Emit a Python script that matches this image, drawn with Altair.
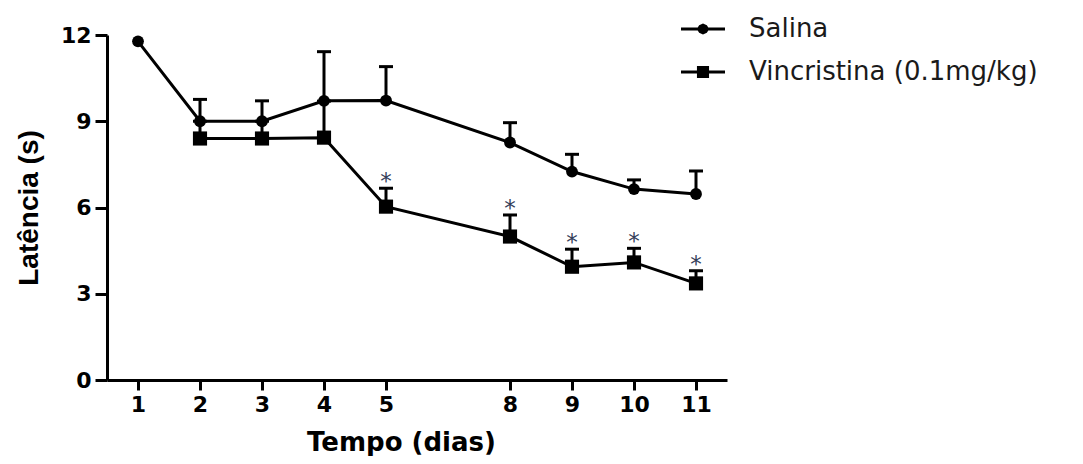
import altair as alt
import pandas as pd

# ---- data ----
dias = ["1", "2", "3", "4", "5", "8", "9", "10", "11"]
ordem = [1, 2, 3, 4, 5, 8, 9, 10, 11]
salina_media = [11.78, 9.0, 9.0, 9.71, 9.72, 8.26, 7.25, 6.64, 6.47]
salina_erro_sup = [None, 9.76, 9.71, 11.42, 10.9, 8.95, 7.85, 6.96, 7.27]
vinc_media = [None, 8.40, 8.40, 8.43, 6.03, 4.99, 3.94, 4.09, 3.36]
vinc_erro_sup = [None, 9.0, 9.0, 9.7, 6.67, 5.74, 4.55, 4.58, 3.80]
vinc_signif = [False, False, False, False, True, True, True, True, True]

grupos = ["Salina", "Vincristina (0.1mg/kg)"]
x_dominio = ["1", "2", "3", "4", "5", "6-7", "8", "9", "10", "11"]
y_ticks = [0, 3, 6, 9, 12]

rows = []
for i, d in enumerate(dias):
    rows.append(dict(dia=d, ordem=ordem[i], grupo=grupos[0], media=salina_media[i],
                     erro_sup=salina_erro_sup[i], sig=False))
    rows.append(dict(dia=d, ordem=ordem[i], grupo=grupos[1], media=vinc_media[i],
                     erro_sup=vinc_erro_sup[i], sig=vinc_signif[i]))
df = pd.DataFrame(rows)

xscale = alt.Scale(domain=x_dominio, type="point", padding=0.5)
yscale = alt.Scale(domain=[0, 12], nice=False)

xaxis = alt.Axis(
    values=dias, title="Tempo (dias)", labelAngle=0, grid=False,
    domainWidth=3, domainColor="black", tickWidth=3, tickSize=10, tickColor="black",
    labelFont="DejaVu Sans", labelFontWeight="bold", labelFontSize=22, labelColor="black",
    labelPadding=4,
    titleFont="DejaVu Sans", titleFontWeight="bold", titleFontSize=26, titleColor="black",
    titleX=294, titleY=70, titleBaseline="alphabetic", titleAlign="center",
)
yaxis = alt.Axis(
    values=y_ticks, title="Latência (s)", grid=False,
    domainWidth=3, domainColor="black", tickWidth=3, tickSize=12, tickColor="black",
    labelFont="DejaVu Sans", labelFontWeight="bold", labelFontSize=22, labelColor="black",
    labelPadding=4,
    titleFont="Liberation Sans", titleFontWeight="bold", titleFontSize=28, titleColor="black",
    titleX=-78, titleY=172.5, titleBaseline="middle", titleAlign="center",
)

X = alt.X("dia:O", scale=xscale, axis=xaxis, sort=x_dominio)

base = alt.Chart(df)

com_media = base.transform_filter("isValid(datum.media)")
com_erro = base.transform_filter("isValid(datum.erro_sup) && isValid(datum.media)")

erro_rule = com_erro.mark_rule(color="black", strokeWidth=3).encode(
    x=X,
    y=alt.Y("media:Q", scale=yscale, axis=yaxis),
    y2="erro_sup:Q",
)
erro_cap = com_erro.mark_tick(color="black", thickness=3, size=14, opacity=1).encode(
    x=X,
    y=alt.Y("erro_sup:Q", scale=yscale, axis=yaxis),
)
linhas = com_media.mark_line(color="black", strokeWidth=3).encode(
    x=X,
    y=alt.Y("media:Q", scale=yscale, axis=yaxis),
    detail="grupo:N",
    order="ordem:Q",
)
pts_sal = com_media.transform_filter(alt.datum.grupo == grupos[0]).mark_point(
    shape="circle", filled=True, color="black", size=140, opacity=1
).encode(x=X, y=alt.Y("media:Q", scale=yscale, axis=yaxis))
pts_vin = com_media.transform_filter(alt.datum.grupo == grupos[1]).mark_point(
    shape="square", filled=True, color="black", size=200, opacity=1
).encode(x=X, y=alt.Y("media:Q", scale=yscale, axis=yaxis))

path_sal = ("M-2,-0.13H-0.48L-0.35,-0.35L0,-0.5L0.35,-0.35L0.48,-0.13H2V0.13H0.48"
            "L0.35,0.35L0,0.5L-0.35,0.35L-0.48,0.13H-2Z")
path_vin = "M-2,-0.13H-0.55V-0.55H0.55V-0.13H2V0.13H0.55V0.55H-0.55V0.13H-2Z"

legenda = com_media.mark_point(filled=True, color="black", opacity=0, size=484).encode(
    x=X,
    y=alt.Y("media:Q", scale=yscale, axis=yaxis),
    shape=alt.Shape(
        "grupo:N",
        scale=alt.Scale(domain=grupos, range=[path_sal, path_vin]),
        legend=alt.Legend(
            title=None, orient="none", legendX=583, legendY=-19,
            symbolOpacity=1, symbolFillColor="black", symbolStrokeWidth=0,
            symbolSize=484, labelFont="DejaVu Sans", labelFontSize=26,
            labelColor="#1a1a1a", labelOffset=33, rowPadding=17, padding=0,
            labelLimit=500,
        ),
    ),
)

estrelas = com_erro.transform_filter("datum.sig").mark_text(
    text="*", font="DejaVu Sans", fontSize=23, color="#34405a", baseline="alphabetic", dy=1
).encode(x=X, y=alt.Y("erro_sup:Q", scale=yscale, axis=yaxis))

chart = alt.layer(erro_rule, erro_cap, linhas, pts_vin, pts_sal, legenda, estrelas).properties(
    width=620, height=345,
    padding={"left": 99, "top": 27, "right": 348, "bottom": 76},
    autosize=alt.AutoSizeParams(type="none"),
    background="white",
).configure_view(strokeWidth=0, stroke="transparent")

chart.save("out.html", embed_options={"renderer": "svg", "actions": False})
